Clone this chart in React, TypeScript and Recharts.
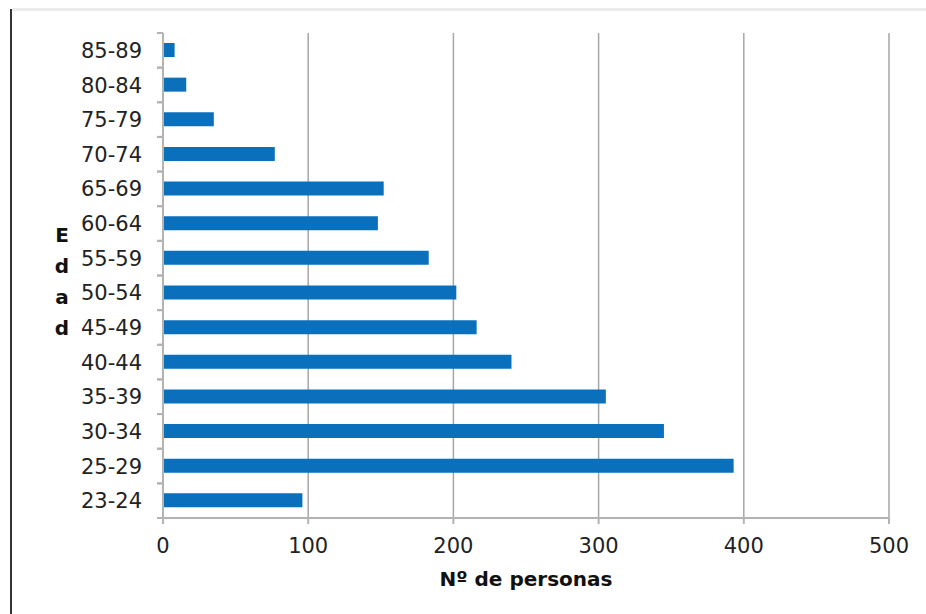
import { BarChart, Bar, XAxis, YAxis, CartesianGrid } from 'recharts'

const AGE_GROUPS = [
  '85-89', '80-84', '75-79', '70-74', '65-69', '60-64', '55-59',
  '50-54', '45-49', '40-44', '35-39', '30-34', '25-29', '23-24',
]
const PERSONS = [8, 16, 35, 77, 152, 148, 183, 202, 216, 240, 305, 345, 393, 96]
const X_TICKS = [0, 100, 200, 300, 400, 500]

const DATA = AGE_GROUPS.map((edad, i) => ({ edad, personas: PERSONS[i] }))

const FONT = '"DejaVu Sans", Verdana, sans-serif'
const AXIS_GRAY = '#b3b3b3'
const Y_TICK_SIZE = 6
const Y_TICK_MARGIN = 15

// category label plus Excel-style tick marks on the band edges
const AgeTick = (props: any) => {
  const { x, y, payload } = props
  const half = (payload && payload.offset) || 0
  const ax = x + Y_TICK_SIZE + Y_TICK_MARGIN
  return (
    <g>
      <line x1={ax - Y_TICK_SIZE} x2={ax} y1={y - half} y2={y - half} stroke={AXIS_GRAY} strokeWidth={2} />
      <line x1={ax - Y_TICK_SIZE} x2={ax} y1={y + half} y2={y + half} stroke={AXIS_GRAY} strokeWidth={2} />
      <text x={x} y={y} dy="0.36em" textAnchor="end" fill="#222" fontSize={21} fontFamily={FONT}>
        {payload.value}
      </text>
    </g>
  )
}

// stacked vertical "Edad" label, like the spreadsheet one
const EdadLabel = (props: any) => {
  const vb = props.viewBox || { x: 0, y: 0, width: 0, height: 0 }
  const cx = vb.x + 19
  const cy = vb.y + vb.height / 2 + 6
  const letters = ['E', 'd', 'a', 'd']
  return (
    <text textAnchor="middle" fontFamily={FONT} fontWeight="bold" fontSize={20} fill="#111">
      {letters.map((ch, i) => (
        <tspan key={i} x={cx} y={cy + (i - 1.5) * 31 + 7}>
          {ch}
        </tspan>
      ))}
    </text>
  )
}

export default function App() {
  return (
    <div
      style={{
        position: 'absolute',
        left: 0,
        top: 0,
        width: 926,
        height: 614,
        background: '#fff',
        overflow: 'hidden',
      }}
    >
      <div style={{ position: 'absolute', left: 12, top: 8, right: 0, height: 3, background: '#ececec' }} />
      <div style={{ position: 'absolute', left: 10, top: 9, bottom: 0, width: 2, background: '#333' }} />
      <BarChart
        width={926}
        height={614}
        data={DATA}
        layout="vertical"
        margin={{ top: 33, right: 37, left: 43, bottom: 66 }}
        barSize={14}
      >
        <CartesianGrid horizontal={false} stroke="#a6a6a6" strokeWidth={1.5} />
        <XAxis
          type="number"
          domain={[0, 500]}
          ticks={X_TICKS}
          height={30}
          axisLine={{ stroke: AXIS_GRAY, strokeWidth: 2 }}
          tickLine={{ stroke: AXIS_GRAY, strokeWidth: 2 }}
          tickSize={6}
          tickMargin={14}
          tick={{ fill: '#222', fontSize: 21, fontFamily: FONT }}
          label={{
            value: 'Nº de personas',
            position: 'bottom',
            offset: 24,
            fill: '#111',
            fontSize: 20,
            fontWeight: 'bold',
            fontFamily: FONT,
          }}
        />
        <YAxis
          type="category"
          dataKey="edad"
          width={120}
          axisLine={{ stroke: AXIS_GRAY, strokeWidth: 2 }}
          tickLine={false}
          tickSize={Y_TICK_SIZE}
          tickMargin={Y_TICK_MARGIN}
          tick={<AgeTick />}
          label={<EdadLabel />}
        />
        <Bar dataKey="personas" fill="#0a70bc" isAnimationActive={false} />
      </BarChart>
    </div>
  )
}
